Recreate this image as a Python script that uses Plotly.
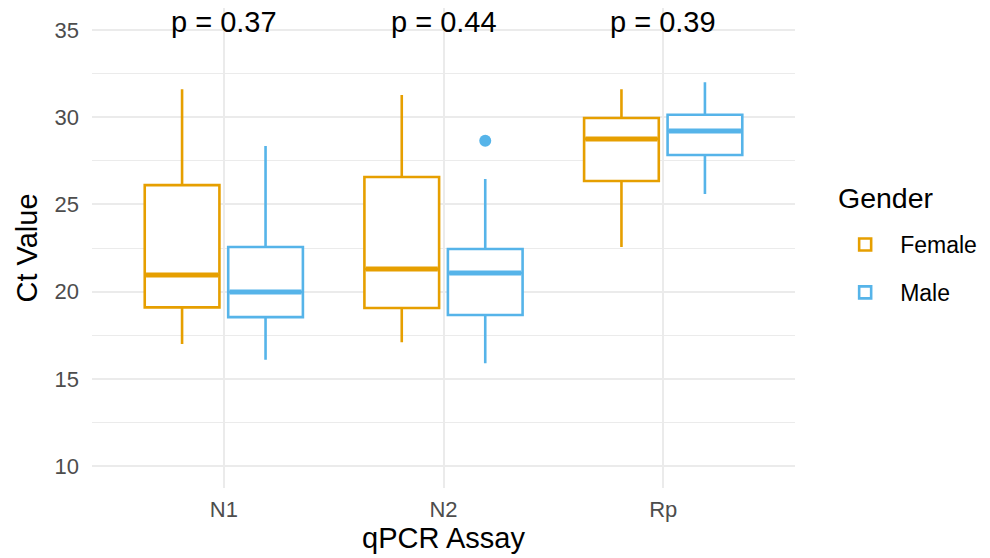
import plotly.graph_objects as go

assays = ["N1", "N2", "Rp"]
genders = ["Female", "Male"]
colors = {"Female": "#E69F00", "Male": "#56B4E9"}

# box statistics per gender, per assay
lower = {"Female": [17.0, 17.1, 22.56], "Male": [16.1, 15.9, 25.6]}
q1 = {"Female": [19.1, 19.06, 26.34], "Male": [18.54, 18.66, 27.83]}
median = {"Female": [20.95, 21.3, 28.75], "Male": [19.98, 21.07, 29.2]}
q3 = {"Female": [26.1, 26.57, 29.95], "Male": [22.56, 22.44, 30.13]}
upper = {"Female": [31.6, 31.27, 31.6], "Male": [28.35, 26.46, 32.0]}

outlier_assay = ["N2"]
outlier_gender = ["Male"]
outlier_value = [28.64]

p_labels = ["p = 0.37", "p = 0.44", "p = 0.39"]

dodge = {"Female": -0.19, "Male": 0.19}
box_w = 0.34

fig = go.Figure()
for g in genders:
    xs = [i + dodge[g] for i in range(len(assays))]
    fig.add_trace(go.Box(
        x=xs, q1=q1[g], median=median[g], q3=q3[g],
        lowerfence=lower[g], upperfence=upper[g],
        width=box_w, name=g, line=dict(color=colors[g], width=2.6),
        fillcolor="white", boxpoints=False, whiskerwidth=0,
        legendgroup=g, hoverinfo="skip",
    ))
for g in genders:
    for i, m in enumerate(median[g]):
        x0 = i + dodge[g]
        fig.add_trace(go.Scatter(
            x=[x0 - box_w / 2 + 0.006, x0 + box_w / 2 - 0.006], y=[m, m],
            mode="lines", line=dict(color=colors[g], width=5),
            showlegend=False, hoverinfo="skip",
        ))
for a, g, v in zip(outlier_assay, outlier_gender, outlier_value):
    fig.add_trace(go.Scatter(
        x=[assays.index(a) + dodge[g]], y=[v], mode="markers",
        marker=dict(color=colors[g], size=12), showlegend=False, hoverinfo="skip",
    ))

for i, t in enumerate(p_labels):
    fig.add_annotation(x=i, y=35.45, xref="x", yref="y", text=t, showarrow=False,
                       font=dict(size=29, color="black"), yanchor="middle")

fig.add_annotation(x=1.058, y=0.604, xref="paper", yref="paper", text="Gender",
                   showarrow=False, xanchor="left", yanchor="middle",
                   font=dict(size=28.5, color="black"))

font = "Liberation Sans, Arial, sans-serif"
fig.update_layout(
    width=990, height=558,
    margin=dict(l=92, r=195, t=8, b=70),
    paper_bgcolor="white", plot_bgcolor="white",
    font=dict(family=font),
    showlegend=True,
    legend=dict(
        font=dict(size=23, color="black"),
        x=1.05, xanchor="left", y=0.552, yanchor="top",
        tracegroupgap=15, itemwidth=60,
    ),
    xaxis=dict(
        range=[-0.6, 2.6], tickmode="array", tickvals=list(range(len(assays))),
        ticktext=assays, showgrid=True, gridcolor="#EBEBEB", gridwidth=2,
        zeroline=False, showline=False, ticks="", ticklabelstandoff=6,
        tickfont=dict(size=22, color="#4D4D4D"),
        title=dict(text="qPCR Assay", font=dict(size=29, color="black"), standoff=4),
    ),
    yaxis=dict(
        range=[8.75, 36.25], tickvals=[10, 15, 20, 25, 30, 35],
        showgrid=True, gridcolor="#EBEBEB", gridwidth=2,
        minor=dict(tickvals=[12.5, 17.5, 22.5, 27.5, 32.5], showgrid=True,
                   gridcolor="#EBEBEB", gridwidth=1),
        zeroline=False, showline=False, ticks="", ticklabelstandoff=12,
        tickfont=dict(size=22, color="#4D4D4D"),
        title=dict(text="Ct Value", font=dict(size=29, color="black"), standoff=8),
    ),
)

fig.write_html("out.html")
